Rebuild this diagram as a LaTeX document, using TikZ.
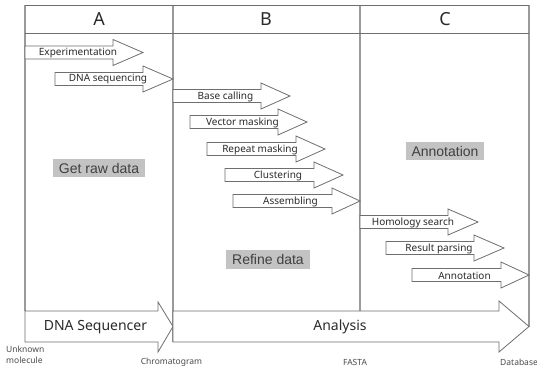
\documentclass[tikz,border=0pt]{standalone}
\usepackage{fontspec}
\setmainfont{Noto Sans}
\newfontfamily\lblfont{Liberation Sans}
\definecolor{frameC}{HTML}{9A9A9A}
\definecolor{edgeC}{HTML}{6E6E6E}
\definecolor{txtC}{HTML}{2A2A2A}
\definecolor{boxC}{HTML}{C3C3C3}
\tikzset{
  arr/.style={draw=edgeC, fill=white, line width=0.8pt, line join=miter},
  frameline/.style={draw=frameC, line width=1.2pt},
  hline/.style={draw=edgeC, line width=0.9pt},
  atext/.style={font=\fontsize{10}{12}\selectfont, text=txtC, inner sep=0pt},
  bigtext/.style={font=\fontsize{14}{16}\selectfont, text=txtC, inner sep=0pt},
  hdr/.style={font=\fontsize{18}{20}\selectfont, text=txtC, inner sep=0pt},
  graylbl/.style={font=\lblfont\fontsize{14}{16}\selectfont, text=black!75, fill=boxC, inner xsep=6pt, inner ysep=4pt},
  small/.style={font=\fontsize{8.5}{10.5}\selectfont, text=txtC!85, inner sep=0pt, align=left}
}
% #1 name, #2 left x, #3 centre y, #4 head start x, #5 tip x, #6 body half h, #7 head half h, #8 text
\newcommand\barrow[8]{%
  \draw[arr] (#2,#3-#6) -- (#4,#3-#6) -- (#4,#3-#7) -- (#5,#3) -- (#4,#3+#7) -- (#4,#3+#6) -- (#2,#3+#6) -- cycle;
  \node[atext] (#1) at ({(#2+#5)/2-6},#3+0.5) {#8};}
\begin{document}
\begin{tikzpicture}[x=1pt,y=-1pt]
\useasboundingbox (0,0) rectangle (537,370);
% frame
\draw[frameline] (25,5) -- (25,311);
\draw[frameline] (173,5) -- (173,342);
\draw[frameline] (360,5) -- (360,311);
\draw[frameline] (529,5) -- (529,327);
\draw[hline] (25,5) -- (529,5);
\draw[hline] (25,33) -- (529,33);
% headers
\node[hdr] (hA) at (99,19) {A};
\node[hdr] (hB) at (266,19) {B};
\node[hdr] (hC) at (445,19) {C};
% gray labels
\node[graylbl] (raw) at (99,168) {Get raw data};
\node[graylbl] (refine) at (268,259.5) {Refine data};
\node[graylbl] (annot) at (445,151) {Annotation};
% small arrows
\barrow{a1}{25}{52.5}{113}{143}{6.5}{13}{Experimentation}
\barrow{a2}{55}{79}{143}{173}{6.5}{13}{DNA sequencing}
\barrow{b1}{173}{96}{261}{290}{6.5}{13}{Base calling}
\barrow{b2}{190}{122}{278}{307}{6.5}{13}{Vector masking}
\barrow{b3}{207}{149}{296}{325}{6.5}{13}{Repeat masking}
\barrow{b4}{225}{175}{314}{343}{6.5}{13}{Clustering}
\barrow{b5}{233}{201}{332}{360}{6.5}{13}{Assembling}
\barrow{c1}{360}{222}{448}{478}{6.5}{13}{Homology search}
\barrow{c2}{386}{248}{474}{504}{6.5}{13}{Result parsing}
\barrow{c3}{412}{275}{501}{529}{6.5}{13}{Annotation}
% big arrows
\draw[arr] (25,311) -- (158,311) -- (158,302) -- (173,326.5) -- (158,352) -- (158,342) -- (25,342) -- cycle;
\node[bigtext] (seq) at (95.5,327) {DNA Sequencer};
\draw[arr] (173,311) -- (499,311) -- (499,301) -- (529,326.5) -- (499,352) -- (499,342) -- (173,342) -- cycle;
\node[bigtext] (ana) at (340,327) {Analysis};
% bottom labels
\node[small, anchor=north west] (unk) at (6,346) {Unknown\\molecule};
\node[small] (chrom) at (171.5,362) {Chromatogram};
\node[small] (fasta) at (355,362) {FASTA};
\node[small, anchor=west] (db) at (500,362) {Database};
\end{tikzpicture}
\end{document}
